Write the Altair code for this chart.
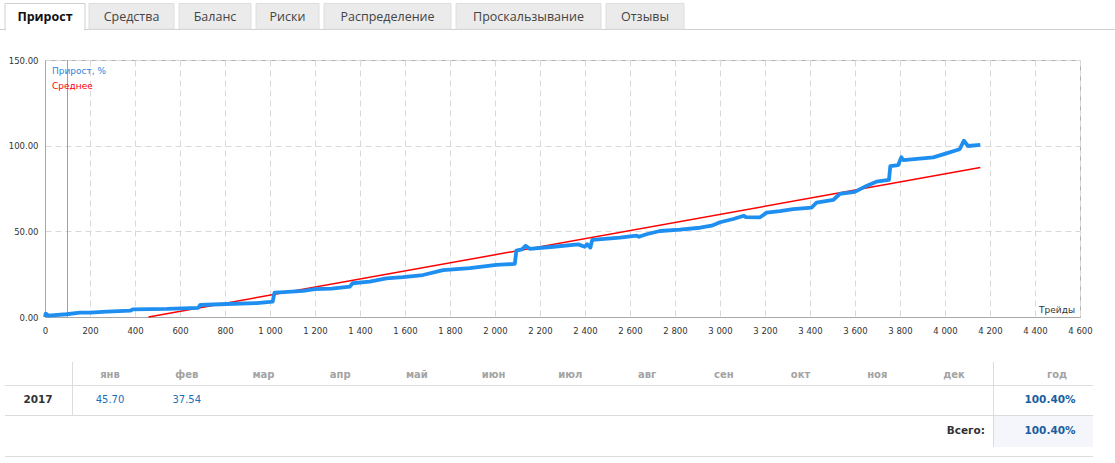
import altair as alt
import pandas as pd

# ---------------- data ----------------
trades = [0, 3, 15, 95, 155, 200, 275, 380, 390, 542, 680, 690, 808, 942, 1000, 1012, 1020, 1045,
          1148, 1199, 1273, 1355, 1367, 1443, 1517, 1591, 1680, 1769, 1888, 2006, 2088, 2095, 2120,
          2136, 2154, 2259, 2370, 2399, 2410, 2424, 2432, 2555, 2629, 2640, 2673, 2733, 2822, 2911,
          2963, 3000, 3059, 3106, 3115, 3178, 3207, 3266, 3325, 3407, 3429, 3503, 3532, 3599, 3651,
          3695, 3751, 3757, 3792, 3806, 3815, 3948, 4006, 4065, 4084, 4102, 4157]
growth = [0.0, 2.0, 0.8, 1.6, 2.5, 2.5, 3.1, 3.7, 4.5, 4.7, 5.3, 7.0, 7.6, 8.1, 8.8, 9.0, 14.2, 14.4,
          15.2, 16.3, 16.6, 17.7, 19.7, 20.6, 22.6, 23.3, 24.5, 27.4, 28.5, 30.4, 31.0, 38.7, 39.5,
          41.6, 39.8, 41.0, 42.4, 41.0, 42.5, 40.5, 45.0, 46.3, 47.5, 46.8, 48.3, 50.2, 51.0, 52.1,
          53.3, 55.3, 57.2, 59.1, 58.3, 58.2, 60.9, 61.8, 62.9, 63.9, 66.7, 68.3, 71.8, 73.0, 76.5,
          79.0, 80.0, 88.1, 88.7, 93.2, 91.6, 93.2, 95.5, 97.9, 102.9, 99.8, 100.4]
avg_trades = [460, 4157]
avg_values = [0.0, 87.2]
marker_trade = [100]

x_ticks = list(range(0, 4601, 200))
y_ticks = [0, 50, 100, 150]

tabs = ["Прирост", "Средства", "Баланс", "Риски", "Распределение", "Проскальзывание", "Отзывы"]
months = ["янв", "фев", "мар", "апр", "май", "июн", "июл", "авг", "сен", "окт", "ноя", "дек"]
year_label = "2017"
month_values = ["45.70", "37.54", "", "", "", "", "", "", "", "", "", ""]
year_total = "100.40%"
grand_total = "100.40%"

# ---------------- layout helpers ----------------
OX, OY = 45, 60          # plot origin in page pixels
W, H = 1035, 257         # plot area
FONT = "DejaVu Sans"


def one(v="x"):
    return pd.DataFrame({"t": [v]})


def txt(s, xa, ya, **kw):
    return alt.Chart(one(s)).mark_text(**kw).encode(
        x=alt.value(xa - OX), y=alt.value(ya - OY), text="t:N")


def box(x1, y1, x2, y2, **kw):
    return alt.Chart(one()).mark_rect(**kw).encode(
        x=alt.value(x1 - OX), x2=alt.value(x2 - OX), y=alt.value(y1 - OY), y2=alt.value(y2 - OY))


def hline(x1, x2, ya, color="#dcdcdc"):
    return alt.Chart(one()).mark_rule(color=color, strokeWidth=1).encode(
        x=alt.value(x1 - OX), x2=alt.value(x2 - OX), y=alt.value(ya - OY))


def vline(xa, y1, y2, color="#dcdcdc"):
    return alt.Chart(one()).mark_rule(color=color, strokeWidth=1).encode(
        x=alt.value(xa - OX), y=alt.value(y1 - OY), y2=alt.value(y2 - OY))


# ---------------- main chart ----------------
xscale = alt.Scale(domain=[0, 4600], nice=False, zero=False)
yscale = alt.Scale(domain=[0, 150], nice=False)

xaxis = alt.Axis(values=x_ticks, title=None, ticks=False, labelFlush=False, labelOverlap=False,
                 labelExpr="replace(format(datum.value, ',d'), ',', ' ')",
                 labelFont=FONT, labelFontSize=8.5, labelColor="#333", labelPadding=9,
                 grid=True, gridDash=[6, 4], gridColor="#d9d9d9", domainColor="#a8a8a8")
yaxis = alt.Axis(values=y_ticks, title=None, ticks=False, format=".2f",
                 labelFont=FONT, labelFontSize=8.5, labelColor="#333", labelPadding=7,
                 grid=True, gridDash=[6, 4], gridColor="#d9d9d9", domainColor="#a8a8a8")

df_growth = pd.DataFrame({"trade": trades, "growth": growth})
df_avg = pd.DataFrame({"trade": avg_trades, "growth": avg_values})

growth_line = alt.Chart(df_growth).mark_line(color="#1e8ef0", strokeWidth=3.8, strokeJoin="round").encode(
    x=alt.X("trade:Q", scale=xscale, axis=xaxis),
    y=alt.Y("growth:Q", scale=yscale, axis=yaxis),
)
avg_line = alt.Chart(df_avg).mark_line(color="#ff0000", strokeWidth=1.5).encode(
    x=alt.X("trade:Q", scale=xscale),
    y=alt.Y("growth:Q", scale=yscale),
)
marker = alt.Chart(pd.DataFrame({"trade": marker_trade})).mark_rule(color="#a0a0a0", strokeWidth=1).encode(
    x=alt.X("trade:Q", scale=xscale))

layers = [marker, avg_line, growth_line]

layers.append(txt("Прирост, %", 52, 71, align="left", baseline="middle", font=FONT, fontSize=9, color="#2a86e0"))
layers.append(txt("Среднее", 52, 86, align="left", baseline="middle", font=FONT, fontSize=9, color="#ff0000"))
layers.append(txt("Трейды", 1075, 310, align="right", baseline="middle", font=FONT, fontSize=9, color="#333"))

# ---------------- tabs ----------------
tab_edges = [(5, 85), (89, 174), (179, 251), (256, 319), (324, 451), (456, 601), (606, 684)]
layers.append(hline(0, 1115, 29.5, color="#d0d0d0"))
for i, (name, (a, b)) in enumerate(zip(tabs, tab_edges)):
    if i == 0:
        layers.append(box(a, 3.5, b, 30, fill="#ffffff", stroke="#cfcfcf", strokeWidth=1))
        layers.append(box(a + 1, 28, b - 1, 31, fill="#ffffff"))
        layers.append(txt(name, (a + b) / 2, 17, align="center", baseline="middle",
                          font="Open Sans", fontSize=12.5, fontWeight="bold", color="#111"))
    else:
        layers.append(box(a, 3.5, b, 29, fill="#ebebeb", stroke="#dedede", strokeWidth=1))
        layers.append(txt(name, (a + b) / 2, 17, align="center", baseline="middle",
                          font="Open Sans", fontSize=12.5, color="#444"))

# ---------------- table ----------------
col0 = 110
step = (954 - 110) / 11
layers.append(hline(5, 1093, 385.5))
layers.append(hline(5, 1093, 415.5))
layers.append(hline(5, 1093, 456.5))
layers.append(box(994, 416, 1093, 447, fill="#f4f6fb"))
layers.append(vline(72.5, 362, 415))
layers.append(vline(993.5, 362, 447))
for i, m in enumerate(months):
    xc = col0 + i * step
    layers.append(txt(m, xc, 375, align="center", baseline="middle", font=FONT, fontSize=10,
                      fontWeight="bold", color="#a3a3a3"))
    if month_values[i]:
        layers.append(txt(month_values[i], xc, 400, align="center", baseline="middle", font=FONT,
                          fontSize=10, color="#1d6fb8"))
layers.append(txt("год", 1057, 375, align="center", baseline="middle", font=FONT, fontSize=10,
                  fontWeight="bold", color="#a3a3a3"))
layers.append(txt(year_label, 38, 400, align="center", baseline="middle", font=FONT, fontSize=10.5,
                  fontWeight="bold", color="#333"))
layers.append(txt(year_total, 1050, 400, align="center", baseline="middle", font=FONT, fontSize=10.5,
                  fontWeight="bold", color="#1a5e9e"))
layers.append(txt("Всего:", 985, 431, align="right", baseline="middle", font=FONT, fontSize=10.5,
                  fontWeight="bold", color="#333"))
layers.append(txt(grand_total, 1050, 431, align="center", baseline="middle", font=FONT, fontSize=10.5,
                  fontWeight="bold", color="#1a5e9e"))

chart = alt.layer(*layers).properties(
    width=W, height=H,
    padding={"left": OX, "top": OY, "right": 1115 - OX - W, "bottom": 463 - OY - H},
    autosize=alt.AutoSizeParams(type="none"),
    background="#ffffff",
).configure_view(stroke="#b0b0b0", strokeWidth=1)

chart.save("out.html", embed_options={"renderer": "svg", "actions": False})
